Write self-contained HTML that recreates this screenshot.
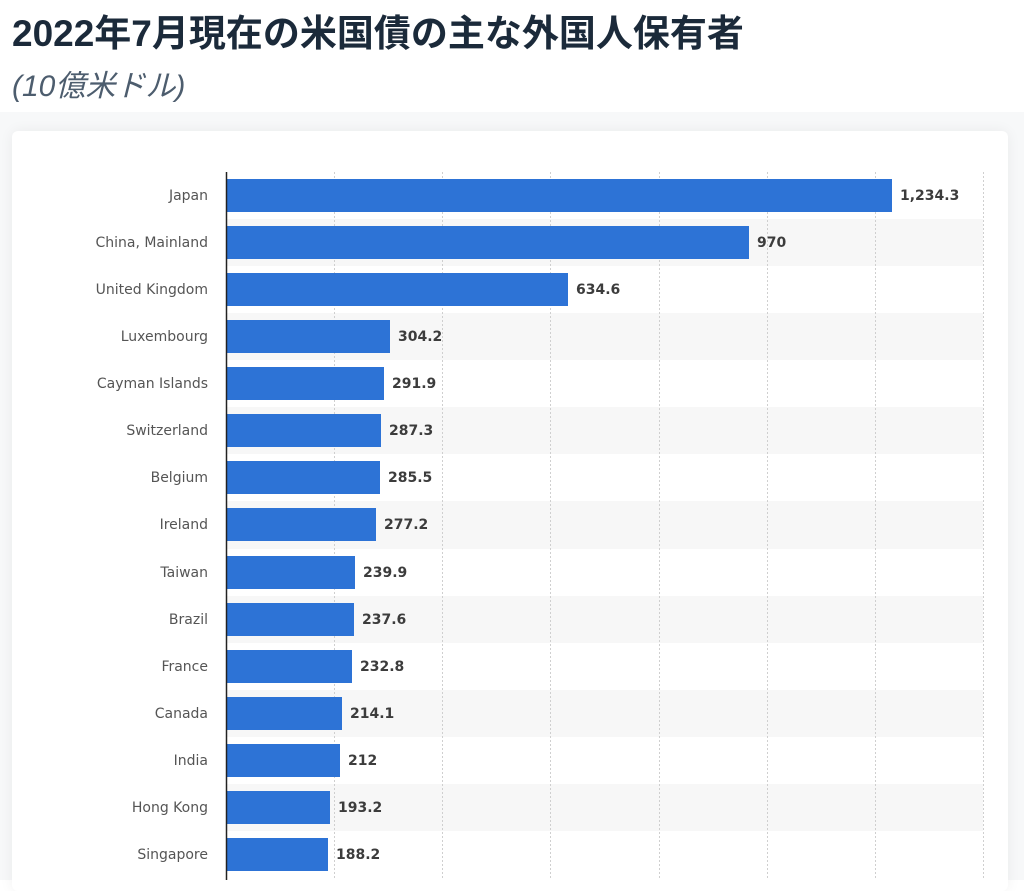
<!DOCTYPE html>
<html><head><meta charset="utf-8"><style>
body{margin:0;width:1024px;height:880px;overflow:hidden;background:#fff;font-family:"Liberation Sans","Noto Sans CJK JP",sans-serif;position:relative}
.t{position:absolute;left:12px;top:11px;font-size:37px;font-weight:bold;color:#1b2a3a;white-space:nowrap;line-height:46px}
.s{position:absolute;left:12px;top:68px;font-size:30px;font-style:italic;color:#4d5d6e;white-space:nowrap;line-height:38px}
.bg{position:absolute;left:0;top:112px;width:1024px;height:768px;background:#f7f8f9}
.card{position:absolute;left:12px;top:131px;width:996px;height:760px;background:#fff;border-radius:6px;box-shadow:0 0 14px rgba(0,0,0,0.06)}
svg{position:absolute;left:0;top:0}
</style></head><body>
<div class="t">2022年7月現在の米国債の主な外国人保有者</div>
<div class="s">(10億米ドル)</div>
<div class="bg"></div>
<div class="card"></div>
<svg width="1024" height="880" font-family="DejaVu Sans, sans-serif">
<g fill="#f7f7f7">
<rect x="227" y="219" width="756" height="47"/><rect x="227" y="313" width="756" height="47"/><rect x="227" y="407" width="756" height="47"/><rect x="227" y="501" width="756" height="48"/><rect x="227" y="596" width="756" height="47"/><rect x="227" y="690" width="756" height="47"/><rect x="227" y="784" width="756" height="47"/>
</g>
<g stroke="#cfcfcf" stroke-dasharray="2,2">
<line x1="334.5" y1="172" x2="334.5" y2="880"/><line x1="442.5" y1="172" x2="442.5" y2="880"/><line x1="550.5" y1="172" x2="550.5" y2="880"/><line x1="659.5" y1="172" x2="659.5" y2="880"/><line x1="767.5" y1="172" x2="767.5" y2="880"/><line x1="875.5" y1="172" x2="875.5" y2="880"/><line x1="983.5" y1="172" x2="983.5" y2="880"/>
</g>
<g fill="#2d73d6">
<rect x="227" y="179" width="665" height="33"/>
<rect x="227" y="226" width="522" height="33"/>
<rect x="227" y="273" width="341" height="33"/>
<rect x="227" y="320" width="163" height="33"/>
<rect x="227" y="367" width="157" height="33"/>
<rect x="227" y="414" width="154" height="33"/>
<rect x="227" y="461" width="153" height="33"/>
<rect x="227" y="508" width="149" height="33"/>
<rect x="227" y="556" width="128" height="33"/>
<rect x="227" y="603" width="127" height="33"/>
<rect x="227" y="650" width="125" height="33"/>
<rect x="227" y="697" width="115" height="33"/>
<rect x="227" y="744" width="113" height="33"/>
<rect x="227" y="791" width="103" height="33"/>
<rect x="227" y="838" width="101" height="33"/>
</g>
<g font-size="14" fill="#555" text-anchor="end">
<text x="208" y="200">Japan</text>
<text x="208" y="247">China, Mainland</text>
<text x="208" y="294">United Kingdom</text>
<text x="208" y="341">Luxembourg</text>
<text x="208" y="388">Cayman Islands</text>
<text x="208" y="435">Switzerland</text>
<text x="208" y="482">Belgium</text>
<text x="208" y="529">Ireland</text>
<text x="208" y="577">Taiwan</text>
<text x="208" y="624">Brazil</text>
<text x="208" y="671">France</text>
<text x="208" y="718">Canada</text>
<text x="208" y="765">India</text>
<text x="208" y="812">Hong Kong</text>
<text x="208" y="859">Singapore</text>
</g>
<g font-size="14" font-weight="bold" fill="#3c3c3c">
<text x="900" y="200">1,234.3</text>
<text x="757" y="247">970</text>
<text x="576" y="294">634.6</text>
<text x="398" y="341">304.2</text>
<text x="392" y="388">291.9</text>
<text x="389" y="435">287.3</text>
<text x="388" y="482">285.5</text>
<text x="384" y="529">277.2</text>
<text x="363" y="577">239.9</text>
<text x="362" y="624">237.6</text>
<text x="360" y="671">232.8</text>
<text x="350" y="718">214.1</text>
<text x="348" y="765">212</text>
<text x="338" y="812">193.2</text>
<text x="336" y="859">188.2</text>
</g>
<line x1="226.5" y1="172" x2="226.5" y2="880" stroke="#222" stroke-width="1.5"/>
</svg>
</body></html>
